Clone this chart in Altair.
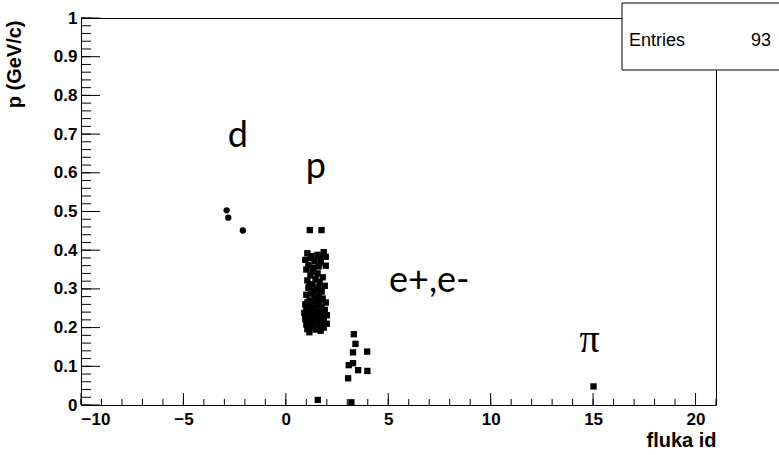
import altair as alt
import pandas as pd
import numpy as np

# ---- data ----
d_x = [-2.89, -2.81, -2.10]
d_p = [0.503, 0.484, 0.451]

p_x = [1.17, 1.74,
       1.05, 1.25, 1.55, 1.85, 1.95, 0.95, 1.40, 1.70, 1.10, 1.60, 1.95,
       1.00, 1.30, 1.55, 1.20, 1.80, 1.45, 1.05, 1.65,
       1.30, 1.90, 1.10, 1.50, 1.75, 1.25, 1.00, 1.60, 1.40,
       1.80, 1.15, 1.50, 1.95, 1.30, 0.95,
       1.60, 1.20, 1.75, 1.00, 1.40, 1.90, 1.10, 1.55, 0.90, 1.30,
       1.80, 2.00, 1.45, 1.05, 1.65, 1.25, 0.95, 1.85, 1.50, 1.15,
       1.70, 1.35, 2.00, 1.00, 1.60, 1.25, 1.85, 1.05, 1.45, 1.70, 1.15,
       1.20, 1.70, 1.35, 1.15, 1.60, 1.35, 1.05, 1.65, 1.35, 1.75, 1.25,
       1.56]
p_p = [0.452, 0.452,
       0.392, 0.385, 0.388, 0.395, 0.383, 0.375, 0.372, 0.368, 0.362, 0.358, 0.360,
       0.350, 0.345, 0.340, 0.335, 0.330, 0.325, 0.322, 0.318,
       0.312, 0.308, 0.303, 0.298, 0.293, 0.288, 0.285, 0.282, 0.278,
       0.275, 0.270, 0.268, 0.265, 0.262, 0.260,
       0.257, 0.255, 0.252, 0.250, 0.248, 0.246, 0.243, 0.240, 0.238, 0.236,
       0.235, 0.232, 0.230, 0.228, 0.226, 0.224, 0.222, 0.220, 0.218, 0.216,
       0.214, 0.212, 0.210, 0.208, 0.205, 0.202, 0.200, 0.196, 0.195, 0.192, 0.188,
       0.380, 0.380, 0.355, 0.310, 0.305, 0.295, 0.265, 0.270, 0.250, 0.240, 0.245,
       0.013]

e_x = [3.32, 3.40, 3.28, 3.97, 3.07, 3.28, 3.53, 3.98, 3.04, 3.20]
e_p = [0.183, 0.158, 0.136, 0.138, 0.103, 0.108, 0.090, 0.088, 0.069, 0.007]

pi_x = [15.02]
pi_p = [0.048]

label_text = ["d", "p", "e+,e-"]
label_x = [-2.34, 1.46, 7.0]
label_y = [0.667, 0.587, 0.292]
pi_label_x = [14.83]
pi_label_y = [0.137]

x_major = [-10, -5, 0, 5, 10, 15, 20]
x_minor = list(range(-10, 22))
y_major = [round(v, 2) for v in np.arange(0, 1.001, 0.1)]
y_minor = [round(v, 2) for v in np.arange(0, 1.001, 0.02)]

# ---- tables ----
pts = pd.DataFrame({
    "fluka id": d_x + p_x + e_x + pi_x,
    "p": d_p + p_p + e_p + pi_p,
    "shape": ["circle"] * len(d_x) + ["square"] * len(p_x) + ["square"] * len(e_x) + ["square"] * len(pi_x),
})
n_entries = len(pts)

xs = alt.Scale(domain=[-10, 21], nice=False, zero=False)
ys = alt.Scale(domain=[0, 1], nice=False)

font = "Liberation Sans"

x_axis = alt.Axis(values=x_major, ticks=False, domain=False, grid=False,
                  labelFont=font, labelFontWeight="bold", labelFontSize=17,
                  labelColor="black", labelPadding=6, labelOverlap=False,
                  title="fluka id", titleFont=font, titleFontSize=20,
                  titleFontWeight="bold", titleColor="black",
                  titleAnchor="end", titleAlign="right",
                  titleBaseline="alphabetic", titleY=41)
y_axis = alt.Axis(values=y_major, format=".1~f", ticks=False, domain=False, grid=False,
                  labelFont=font, labelFontWeight="bold", labelFontSize=17,
                  labelColor="black", labelPadding=4, labelOverlap=False,
                  title="p (GeV/c)", titleFont=font, titleFontSize=20,
                  titleFontWeight="bold", titleColor="black",
                  titleAnchor="end", titleAngle=-90, titleAlign="right",
                  titleBaseline="alphabetic", titleX=-61, titleY=2)

points = alt.Chart(pts).mark_point(filled=True, color="black", opacity=1, size=40).encode(
    x=alt.X("fluka id:Q", scale=xs, axis=x_axis),
    y=alt.Y("p:Q", scale=ys, axis=y_axis),
    shape=alt.Shape("shape:N", scale=alt.Scale(domain=["circle", "square"], range=["circle", "square"]), legend=None),
)

xmaj = alt.Chart(pd.DataFrame({"v": x_major})).mark_rule(color="black", strokeWidth=1).encode(
    x=alt.X("v:Q", scale=xs, axis=x_axis), y=alt.value(387), y2=alt.value(375))
xmin = alt.Chart(pd.DataFrame({"v": x_minor})).mark_rule(color="black", strokeWidth=1).encode(
    x=alt.X("v:Q", scale=xs, axis=x_axis), y=alt.value(387), y2=alt.value(381))
ymaj = alt.Chart(pd.DataFrame({"v": y_major})).mark_rule(color="black", strokeWidth=1).encode(
    y=alt.Y("v:Q", scale=ys, axis=y_axis), x=alt.value(0), x2=alt.value(19))
ymin = alt.Chart(pd.DataFrame({"v": y_minor})).mark_rule(color="black", strokeWidth=1).encode(
    y=alt.Y("v:Q", scale=ys, axis=y_axis), x=alt.value(0), x2=alt.value(10))

labels = alt.Chart(pd.DataFrame({"t": label_text, "x": label_x, "y": label_y})).mark_text(
    font="Lato", fontSize=36, color="black", align="center", baseline="alphabetic").encode(
    x=alt.X("x:Q", scale=xs, axis=x_axis), y=alt.Y("y:Q", scale=ys, axis=y_axis), text="t:N")

pi_lab = alt.Chart(pd.DataFrame({"t": ["π"], "x": pi_label_x, "y": pi_label_y})).mark_text(
    font="Liberation Serif", fontSize=40, color="black", align="center", baseline="alphabetic").encode(
    x=alt.X("x:Q", scale=xs, axis=x_axis), y=alt.Y("y:Q", scale=ys, axis=y_axis), text="t:N")

one = pd.DataFrame({"k": [0]})
box = alt.Chart(one).mark_rect(fill="white", stroke="black", strokeWidth=1).encode(
    x=alt.value(541), x2=alt.value(720), y=alt.value(-15), y2=alt.value(52))
entries = alt.Chart(one).mark_text(font=font, fontSize=18, color="black", align="left",
                                   baseline="alphabetic").encode(
    x=alt.value(548), y=alt.value(28), text=alt.value("Entries"))
count = alt.Chart(one).mark_text(font=font, fontSize=18, color="black", align="right",
                                 baseline="alphabetic").encode(
    x=alt.value(690), y=alt.value(28), text=alt.value(str(n_entries)))

chart = alt.layer(points, xmin, xmaj, ymin, ymaj, labels, pi_lab, box, entries, count).properties(
    width=635, height=387,
    padding={"left": 81, "top": 18, "right": 63, "bottom": 50},
    autosize=alt.AutoSizeParams(type="none"),
    background="white",
).configure_view(stroke="black", strokeWidth=1)

chart.save("out.html", embed_options={"renderer": "svg", "actions": False})
